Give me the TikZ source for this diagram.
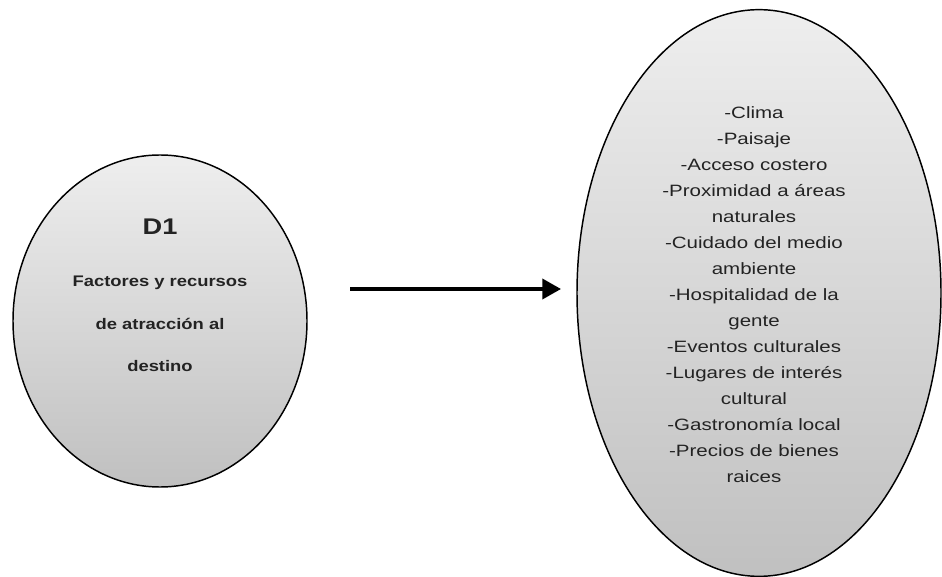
\documentclass[tikz,border=0pt]{standalone}
\usepackage{fontspec}
\usetikzlibrary{shapes.geometric,arrows.meta}
\newfontfamily\itemfont[FakeStretch=1.25]{Liberation Sans}
\newfontfamily\labelfont[FakeStretch=1.2]{Liberation Sans}
\definecolor{shadetop}{RGB}{238,238,238}
\definecolor{shadebot}{RGB}{192,192,192}
\definecolor{inkgray}{RGB}{35,35,35}
\tikzset{
  blob/.style={ellipse, draw=black, line width=1.1pt,
    top color=shadetop, bottom color=shadebot, inner sep=0pt},
  itemtext/.style={align=center, text=inkgray,
    font=\itemfont\fontsize{12.3pt}{19.5pt}\selectfont},
  bodytext/.style={align=center, text=inkgray,
    font=\labelfont\bfseries\fontsize{11.5pt}{32pt}\selectfont},
  titletext/.style={text=inkgray, font=\labelfont\bfseries\fontsize{17pt}{20pt}\selectfont},
  flow/.style={line width=2.8pt, -{Triangle[length=14pt,width=15pt]}}
}
\begin{document}
\begin{tikzpicture}[x=0.75pt,y=-0.75pt]
  \useasboundingbox[fill=white] (0,0) rectangle (942,577);
  % dimension D1
  \node[blob, minimum width=220.5pt, minimum height=249pt] (d1) at (160,321) {};
  \node[titletext] (d1title) at (160,227) {D1};
  \node[bodytext] (d1body) at (160,324) {Factores y recursos\\de atracción al\\destino};
  % list of factors
  \node[blob, minimum width=273pt, minimum height=425pt] (factors) at (759,293) {};
  \node[itemtext] (factorlist) at (754,295) {-Clima\\-Paisaje\\-Acceso costero\\-Proximidad a áreas\\naturales\\-Cuidado del medio\\ambiente\\-Hospitalidad de la\\gente\\-Eventos culturales\\-Lugares de interés\\cultural\\-Gastronomía local\\-Precios de bienes\\raices};
  % connector
  \coordinate (arrowstart) at (350,289);
  \coordinate (arrowend) at (561,289);
  \draw[flow] (arrowstart) -- (arrowend);
\end{tikzpicture}
\end{document}
